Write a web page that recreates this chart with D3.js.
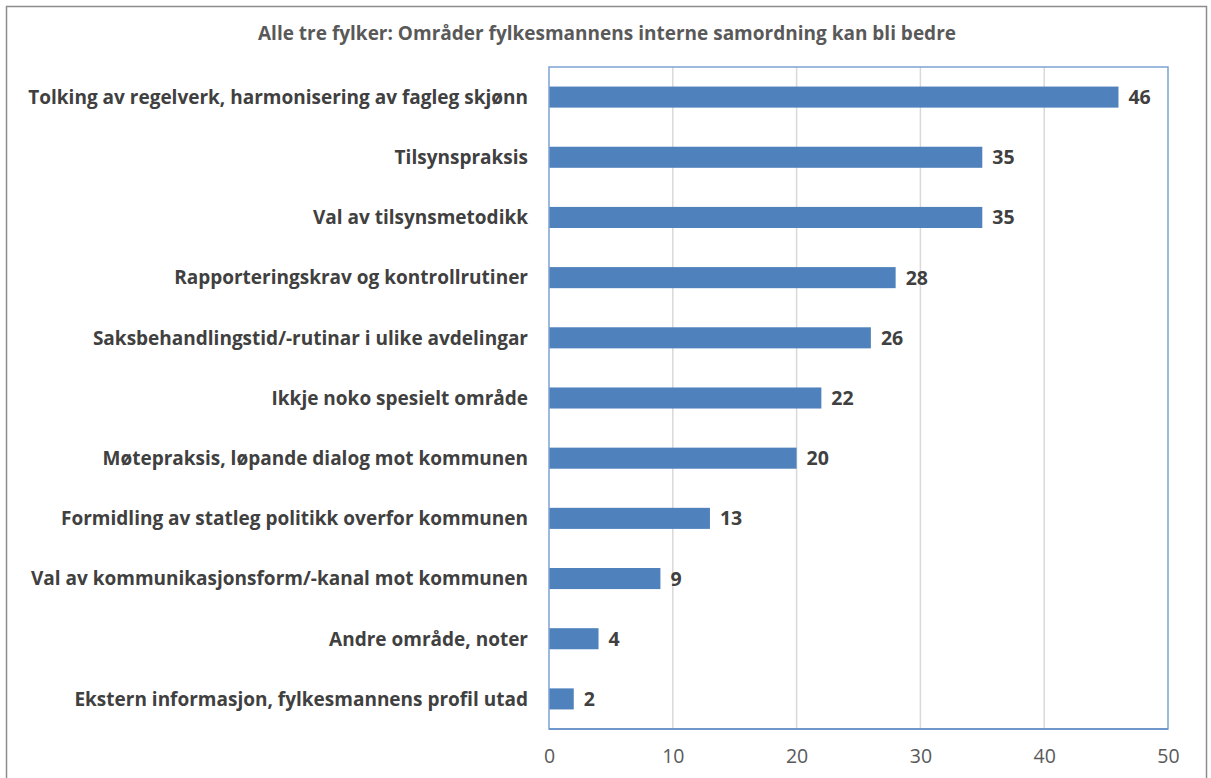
<!DOCTYPE html>
<html lang="no">
<head>
<meta charset="UTF-8">
<title>Alle tre fylker</title>
<style>
    body { margin: 0; background: white; }
    svg { display: block; font-family: "Open Sans", Arial, sans-serif; }
    .title { font-weight: 700; font-size: 19px; fill: #595959; }
    .cat { font-weight: 700; font-size: 19px; fill: #404040; }
    .val { font-weight: 700; font-size: 19.5px; fill: #404040; }
    .tick text { font-size: 19.5px; fill: #595959; }
</style>
</head>
<body>
<div id="chart"></div>
<script src="https://cdn.jsdelivr.net/npm/d3@7"></script>
<script>
    const categories = [
        "Tolking av regelverk, harmonisering av fagleg skjønn",
        "Tilsynspraksis",
        "Val av tilsynsmetodikk",
        "Rapporteringskrav og kontrollrutiner",
        "Saksbehandlingstid/-rutinar i ulike avdelingar",
        "Ikkje noko spesielt område",
        "Møtepraksis, løpande dialog mot kommunen",
        "Formidling av statleg politikk overfor kommunen",
        "Val av kommunikasjonsform/-kanal mot kommunen",
        "Andre område, noter",
        "Ekstern informasjon, fylkesmannens profil utad"
    ];
    const values = [46, 35, 35, 28, 26, 22, 20, 13, 9, 4, 2];
    const xTicks = [0, 10, 20, 30, 40, 50];
    const title = "Alle tre fylker: Områder fylkesmannens interne samordning kan bli bedre";

    const width = 1211, height = 778;
    const plot = { left: 549, right: 1168, top: 67, bottom: 729 };

    const svg = d3.select("#chart").append("svg")
        .attr("width", width)
        .attr("height", height);

    // outer frame
    svg.append("rect")
        .attr("x", 6.5).attr("y", 6.5)
        .attr("width", 1200).attr("height", 800)
        .attr("fill", "none")
        .attr("stroke", "#8c8c8c")
        .attr("stroke-width", 1.5);

    svg.append("text")
        .attr("class", "title")
        .attr("x", 607).attr("y", 40)
        .attr("text-anchor", "middle")
        .text(title);

    const x = d3.scaleLinear().domain([0, 50]).range([plot.left, plot.right]);
    const y = d3.scaleBand().domain(categories).range([plot.top, plot.bottom]).paddingInner(0.65).paddingOuter(0.325);

    // gridlines
    svg.append("g")
        .selectAll("line")
        .data(xTicks.slice(1, -1))
        .join("line")
        .attr("x1", d => x(d)).attr("x2", d => x(d))
        .attr("y1", plot.top).attr("y2", plot.bottom)
        .attr("stroke", "#d9d9d9")
        .attr("stroke-width", 1.5);

    // bars
    svg.append("g")
        .selectAll("rect")
        .data(values)
        .join("rect")
        .attr("x", x(0))
        .attr("y", (d, i) => y(categories[i]))
        .attr("width", d => x(d) - x(0))
        .attr("height", y.bandwidth())
        .attr("fill", "#4f81bd");

    // plot border
    svg.append("rect")
        .attr("x", plot.left).attr("y", plot.top)
        .attr("width", plot.right - plot.left).attr("height", plot.bottom - plot.top)
        .attr("fill", "none")
        .attr("stroke", "#7ea2d2")
        .attr("stroke-width", 1.5);

    svg.append("line")
        .attr("x1", plot.left).attr("x2", plot.right)
        .attr("y1", plot.bottom).attr("y2", plot.bottom)
        .attr("stroke", "#6f97cc")
        .attr("stroke-width", 2);

    // value labels
    svg.append("g")
        .selectAll("text")
        .data(values)
        .join("text")
        .attr("class", "val")
        .attr("x", d => x(d) + 10)
        .attr("y", (d, i) => y(categories[i]) + y.bandwidth() / 2)
        .attr("dy", "0.36em")
        .text(d => d);

    // category labels
    svg.append("g")
        .selectAll("text")
        .data(categories)
        .join("text")
        .attr("class", "cat")
        .attr("x", 528)
        .attr("y", d => y(d) + y.bandwidth() / 2)
        .attr("dy", "0.36em")
        .attr("text-anchor", "end")
        .text(d => d);

    // x axis
    const xAxis = svg.append("g")
        .attr("transform", `translate(0,${plot.bottom})`)
        .call(d3.axisBottom(x).tickValues(xTicks).tickSize(0).tickPadding(20));
    xAxis.select(".domain").remove();
    xAxis.selectAll("text").attr("font-family", "Open Sans, Arial, sans-serif");
</script>
</body>
</html>
